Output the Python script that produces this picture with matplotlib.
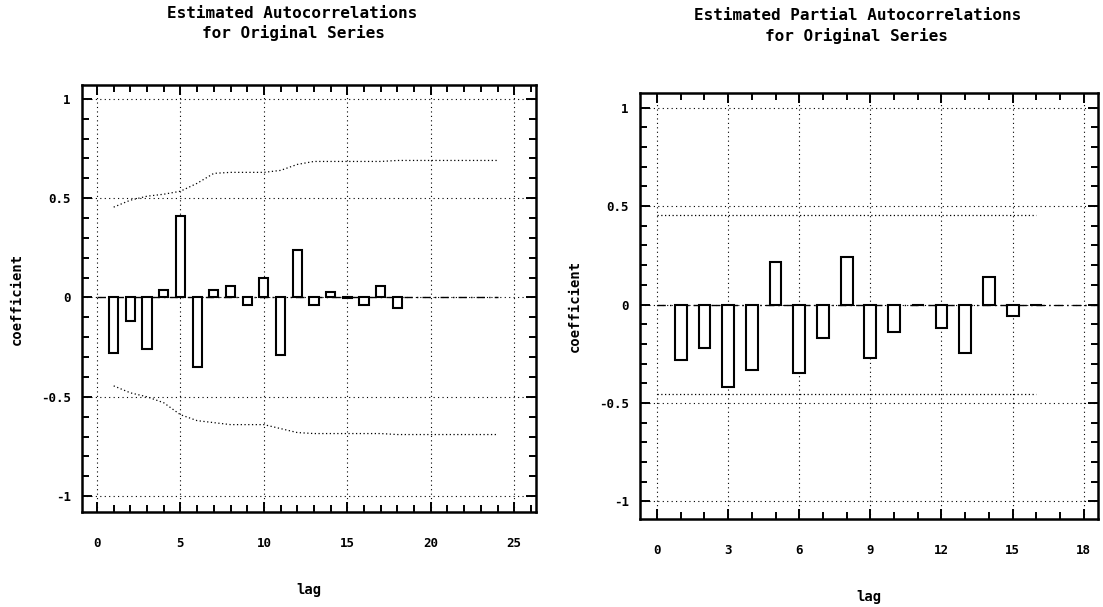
import matplotlib
matplotlib.use("Agg")
import matplotlib.pyplot as plt
from matplotlib.ticker import MultipleLocator, FuncFormatter
import numpy as np

# --- data ---
acf_lags = list(range(1, 19))
acf_vals = [-0.28, -0.12, -0.26, 0.04, 0.41, -0.35, 0.04, 0.06, -0.04, 0.10,
            -0.29, 0.24, -0.04, 0.03, -0.005, -0.04, 0.06, -0.055]
acf_band_lags = list(range(1, 25))
acf_band_upper = [0.455, 0.49, 0.51, 0.52, 0.535, 0.575, 0.625, 0.63, 0.63, 0.63,
                  0.64, 0.67, 0.685, 0.685, 0.685, 0.685, 0.685, 0.69, 0.69, 0.69,
                  0.69, 0.69, 0.69, 0.69]
acf_band_lower = [-0.445, -0.48, -0.50, -0.53, -0.59, -0.62, -0.63, -0.64, -0.64, -0.64,
                  -0.66, -0.68, -0.685, -0.685, -0.685, -0.685, -0.685, -0.69, -0.69, -0.69,
                  -0.69, -0.69, -0.69, -0.69]

pacf_lags = list(range(1, 17))
pacf_vals = [-0.28, -0.22, -0.42, -0.335, 0.215, -0.35, -0.17, 0.24, -0.27, -0.14,
             -0.005, -0.12, -0.245, 0.14, -0.06, -0.005]
pacf_band_lags = [0, 16]
pacf_band = 0.455

FONT = "DejaVu Sans Mono"

# plain labels like the old plotter output: 1, 0.5, 0, -0.5, -1
plain = FuncFormatter(lambda v, pos: ("%g" % round(v, 2)).replace("-0", "-0") if abs(v) > 1e-9 else "0")


def style_axes(ax, xmajor, xlim, ylim):
    ax.set_xlim(*xlim)
    ax.set_ylim(*ylim)
    ax.xaxis.set_major_locator(MultipleLocator(xmajor))
    ax.xaxis.set_minor_locator(MultipleLocator(1))
    ax.yaxis.set_major_locator(MultipleLocator(0.5))
    ax.yaxis.set_minor_locator(MultipleLocator(0.1))
    ax.xaxis.set_major_formatter(plain)
    ax.yaxis.set_major_formatter(plain)
    ax.tick_params(which="both", direction="in", top=True, right=True, width=1.4)
    ax.tick_params(which="major", length=7)
    ax.tick_params(which="minor", length=5)
    ax.tick_params(axis="x", which="major", pad=18)
    ax.tick_params(axis="y", which="major", pad=8)
    ax.grid(which="major", color="black", linestyle=(0, (1, 3)), linewidth=0.8)
    for spine in ax.spines.values():
        spine.set_linewidth(1.8)
    for lab in ax.get_xticklabels() + ax.get_yticklabels():
        lab.set_fontfamily(FONT)
        lab.set_fontweight("bold")
        lab.set_fontsize(9)
    ax.set_xlabel("lag", fontfamily=FONT, fontweight="bold", fontsize=10, labelpad=24)
    ax.set_ylabel("coefficient", fontfamily=FONT, fontweight="bold", fontsize=10, labelpad=12)


fig = plt.figure(figsize=(11.03, 6.07), dpi=100)
ax1 = fig.add_axes([0.0743, 0.1565, 0.4116, 0.7035])
ax2 = fig.add_axes([0.5802, 0.145, 0.4152, 0.7018])

# left: autocorrelations
ax1.bar(acf_lags, acf_vals, width=0.55, color="white", edgecolor="black", linewidth=1.5, zorder=3)
ax1.plot([0, 24], [0, 0], color="black", linestyle=(0, (6, 3, 1, 3)), linewidth=1.0, zorder=2)
ax1.plot(acf_band_lags, acf_band_upper, color="black", linestyle=(0, (1, 2)), linewidth=0.9)
ax1.plot(acf_band_lags, acf_band_lower, color="black", linestyle=(0, (1, 2)), linewidth=0.9)
style_axes(ax1, 5, (-0.9, 26.3), (-1.08, 1.07))

# right: partial autocorrelations
ax2.bar(pacf_lags, pacf_vals, width=0.5, color="white", edgecolor="black", linewidth=1.5, zorder=3)
ax2.plot([0, 18.6], [0, 0], color="black", linestyle=(0, (6, 3, 1, 3)), linewidth=1.0, zorder=2)
ax2.plot(pacf_band_lags, [pacf_band, pacf_band], color="black", linestyle=(0, (1, 2)), linewidth=0.9)
ax2.plot(pacf_band_lags, [-pacf_band, -pacf_band], color="black", linestyle=(0, (1, 2)), linewidth=0.9)
style_axes(ax2, 3, (-0.72, 18.6), (-1.09, 1.075))

# titles
title_kw = dict(fontfamily=FONT, fontweight="bold", fontsize=11.5, ha="center", va="center")
fig.text(292 / 1103, 1 - 14 / 607, "Estimated Autocorrelations", **title_kw)
fig.text(293 / 1103, 1 - 33 / 607, "for Original Series", **title_kw)
fig.text(858 / 1103, 1 - 16 / 607, "Estimated Partial Autocorrelations", **title_kw)
fig.text(856 / 1103, 1 - 36 / 607, "for Original Series", **title_kw)

fig.savefig("out.png", dpi=100)
